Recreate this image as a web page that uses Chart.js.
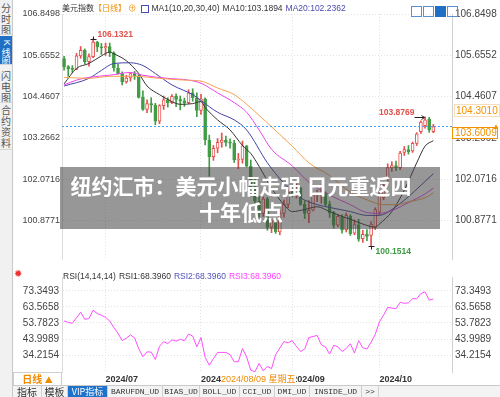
<!DOCTYPE html>
<html>
<head>
<meta charset="utf-8">
<script src="https://cdn.jsdelivr.net/npm/chart.js@4.4.1/dist/chart.umd.min.js"></script>
<style>
  body { margin: 0; background: #fff; }
  #box { position: relative; width: 500px; height: 397px; overflow: hidden;
         font-family: "Liberation Sans", Arial, "Noto Sans CJK SC", sans-serif; }
  canvas { position: absolute; left: 0; }
  #kline { top: 0; }
  #rsi { top: 268px; }
  .abs { position: absolute; white-space: nowrap; }
  #side { position: absolute; left: 0; top: 0; width: 12px; height: 397px; background: #f1f1f1;
          border-right: 1px solid #c9c9c9; }
  .tab { position: absolute; left: 0; width: 12px; font-size: 10px; line-height: 11px; color: #555;
         text-align: center; font-family: "Noto Sans CJK SC", sans-serif; border-bottom: 1px solid #d6d6d6;
         box-sizing: border-box; overflow: hidden; }
  .tab.on { background: #1f6fc5; color: #fff; }
  #head { left: 62px; top: 2px; font-size: 8.5px; line-height: 12px; color: #333; }
  #head span { margin-right: 3px; }
  #head .cjk { font-family: "Noto Sans CJK SC", sans-serif; font-size: 8px; margin-right: 0; }
  #rsihead { left: 63px; top: 271px; font-size: 8.5px; line-height: 11px; color: #333; }
  #rsihead span { margin-right: 3px; }
  #title { left: 60px; top: 167px; width: 380px; height: 62px; background: rgba(65, 65, 65, 0.55);
           color: #fff; font: bold 21px/26px "Noto Sans CJK SC", sans-serif; text-align: center;
           white-space: normal; padding-right: 18px; box-sizing: border-box; padding-top: 5px; }
  #tabs { left: 13px; top: 385px; height: 12px; width: 487px; background: #f3f3f3; border-top: 1px solid #c9c9c9; }
  #tabs div { position: absolute; top: 0; height: 12px; font: 8px/12px "Liberation Mono", monospace; color: #333;
              text-align: center; border-right: 1px solid #cfcfcf; overflow: hidden; }
  .icon { display: inline-block; width: 9px; height: 9px; border: 1px solid #5b8fd0; margin-left: 1px; vertical-align: middle; }
</style>
</head>
<body>
<div id="box">
  <canvas id="kline" width="500" height="268"></canvas>
  <canvas id="rsi" width="500" height="117"></canvas>

  <div id="side">
    <div class="tab" style="top:0;height:35px;padding-top:2px">分<br>时<br>图</div>
    <div class="tab on" style="top:36px;height:29px;padding-top:1px;font-size:9px;line-height:9.5px"><span style="display:inline-block;transform:rotate(90deg);font-family:'Liberation Sans'">K</span><br>线<br>图</div>
    <div class="tab" style="top:66px;height:37px;padding-top:4px">闪<br>电<br>图</div>
    <div class="tab" style="top:104px;height:46px;padding-top:0">合<br>约<br>资<br>料</div>
  </div>

  <div id="head" class="abs">
    <span class="cjk">美元指数</span><span class="cjk" style="color:#f08a00;margin-right:2px">【日线】</span><span style="color:#f08a00">⊕</span><span class="icon" style="width:6px;height:6px;margin-right:3px;border-color:#4a4ab0"></span><span>MA1(10,20,30,40)</span><span>MA10:103.1894</span><span style="color:#4a4ab0">MA20:102.2362</span>
  </div>
  <div class="abs" style="left:410px;top:2px">
    <span class="icon"></span><span class="icon"></span><span class="icon" style="background:#1f6fc5;border-color:#1f6fc5"></span><span class="icon"></span>
  </div>

  <div class="abs" style="left:454px;top:104px;font-size:10px;color:#f29100;border:1px solid #f6dcb8;padding:0 1px;line-height:11px">104.3010</div>
  <div class="abs" style="left:492px;top:122px;font-size:8px;color:#f29100">▲</div>

  <div id="title" class="abs">纽约汇市：美元小幅走强 日元重返四<br>十年低点</div>

  <div class="abs" style="left:14px;top:268px;font-size:10px;color:#e33">✹</div>
  <div id="rsihead" class="abs">
    <span>RSI(14,14,14)</span><span>RSI1:68.3960</span><span style="color:#5050b8">RSI2:68.3960</span><span style="color:#ff40ff">RSI3:68.3960</span>
  </div>

  <div class="abs" style="left:13px;top:372px;width:47px;height:12px;border:1px solid #cfcfcf;background:#fff;color:#f08a00;font:bold 10px/12px 'Noto Sans CJK SC',sans-serif;text-align:center">日线 <span style="font-size:8px">▲</span></div>
  <div class="abs" style="left:221px;top:373px;background:#fff;color:#f08a00;font:9px/11px 'Liberation Sans','Noto Sans CJK SC',sans-serif">2024/08/09 <span style="font-family:'Noto Sans CJK SC'">星期五</span></div>

  <div id="tabs" class="abs">
    <div style="left:0;width:28px;font-family:'Noto Sans CJK SC';font-size:10px">指标</div>
    <div style="left:29px;width:25px;font-family:'Noto Sans CJK SC';font-size:10px">模板</div>
    <div style="left:55px;width:39px;background:#1f72c9;color:#fff;font-family:'Noto Sans CJK SC';font-size:9px">VIP指标</div>
    <div style="left:95px;width:54px">BARUFDN_UD</div>
    <div style="left:150px;width:36px">BIAS_UD</div>
    <div style="left:187px;width:39px">BOLL_UD</div>
    <div style="left:227px;width:34px">CCI_UD</div>
    <div style="left:262px;width:34px">DMI_UD</div>
    <div style="left:297px;width:51px">INSIDE_UD</div>
    <div style="left:349px;width:16px">&gt;&gt;</div>
  </div>
</div>

<script>
// trading days, 2024
const dates = ['06/17','06/18','06/19','06/20','06/21','06/24','06/25','06/26','06/27','06/28',
  '07/01','07/02','07/03','07/04','07/05','07/08','07/09','07/10','07/11','07/12',
  '07/15','07/16','07/17','07/18','07/19','07/22','07/23','07/24','07/25','07/26',
  '07/29','07/30','07/31','08/01','08/02','08/05','08/06','08/07','08/08','08/09',
  '08/12','08/13','08/14','08/15','08/16','08/19','08/20','08/21','08/22','08/23',
  '08/26','08/27','08/28','08/29','08/30','09/02','09/03','09/04','09/05','09/06',
  '09/09','09/10','09/11','09/12','09/13','09/16','09/17','09/18','09/19','09/20',
  '09/23','09/24','09/25','09/26','09/27','09/30','10/01','10/02','10/03','10/04',
  '10/07','10/08','10/09','10/10','10/11','10/14','10/15','10/16','10/17','10/18'];
const year = '2024';

const opens = [105.56,105.33,105.26,105.25,105.64,105.80,105.47,105.62,106.04,105.90,
  105.87,105.91,105.73,105.29,105.12,104.89,105.00,105.13,105.06,104.44,
  104.09,104.26,104.22,103.75,104.20,104.37,104.29,104.47,104.38,104.34,
  104.29,104.57,104.43,104.06,104.40,103.21,102.73,102.97,103.14,103.21,
  103.14,103.12,102.63,102.65,103.04,102.45,101.86,101.44,101.09,101.51,
  100.68,100.86,100.55,101.09,101.35,101.70,101.64,101.83,101.35,101.09,
  101.18,101.63,101.66,101.68,101.35,101.11,100.75,100.98,100.62,101.00,
  100.52,100.76,100.36,100.48,100.45,100.69,101.12,101.54,102.10,102.40,
  102.47,102.41,102.85,102.93,102.89,103.11,103.45,103.62,103.81,103.45];
const highs = [105.63,105.36,105.36,105.71,105.91,105.84,105.70,106.1321,106.06,106.00,
  106.01,106.01,105.76,105.40,105.18,105.08,105.15,105.19,105.10,104.63,
  104.37,104.43,104.27,104.23,104.48,104.43,104.52,104.54,104.48,104.42,
  104.66,104.69,104.57,104.53,104.43,103.35,103.05,103.25,103.41,103.32,
  103.24,103.20,102.82,103.18,103.05,102.63,102.08,101.59,101.56,101.55,
  100.92,100.90,101.16,101.47,101.79,101.80,101.94,101.84,101.45,101.46,
  101.70,101.76,101.91,101.71,101.44,101.15,101.06,101.05,101.10,101.05,
  100.90,100.92,100.60,100.62,100.85,101.25,101.70,102.00,102.52,102.58,
  102.60,102.88,103.02,103.05,103.15,103.42,103.76,103.8769,103.86,103.66];
const lows = [105.23,105.05,105.16,105.24,105.57,105.41,105.34,105.59,105.76,105.68,
  105.65,105.62,105.20,105.11,104.80,104.85,104.91,104.96,104.42,104.06,
  104.00,104.01,103.65,103.68,104.09,104.16,104.26,104.17,104.08,104.18,
  104.26,104.33,103.88,103.95,103.07,102.16,102.62,102.84,103.00,103.03,
  102.97,102.56,102.38,102.54,102.43,101.80,101.30,100.92,101.00,100.60,
  100.53,100.51,100.47,100.98,101.25,101.57,101.53,101.32,100.94,100.82,
  101.16,101.43,101.38,101.29,100.97,100.66,100.70,100.52,100.55,100.45,
  100.47,100.28,100.25,100.30,100.1514,100.62,101.05,101.48,102.02,102.30,
  102.32,102.35,102.76,102.80,102.85,103.05,103.40,103.55,103.43,103.42];
const closes = [105.33,105.26,105.25,105.64,105.80,105.47,105.62,106.04,105.90,105.87,
  105.91,105.73,105.29,105.12,104.89,105.00,105.13,105.06,104.44,104.09,
  104.26,104.22,103.75,104.20,104.37,104.29,104.47,104.38,104.34,104.29,
  104.57,104.43,104.06,104.40,103.21,102.73,102.97,103.14,103.21,103.14,
  103.12,102.63,102.65,103.04,102.45,101.86,101.44,101.09,101.51,100.68,
  100.86,100.55,101.09,101.35,101.70,101.64,101.83,101.35,101.09,101.18,
  101.63,101.66,101.68,101.35,101.11,100.75,101.00,100.60,101.03,100.50,
  100.78,100.34,100.48,100.42,100.78,101.20,101.62,101.90,102.41,102.47,
  102.40,102.83,102.93,102.87,103.11,103.39,103.73,103.79,103.50,103.60];

// moving averages: [day index, value]
const ma10 = [[0,104.83],[3,105.28],[6,105.42],[9,105.64],[11,105.75],[12,105.70],[15,105.50],[18,105.13],
  [20,104.77],[23,104.52],[25,104.38],[28,104.24],[31,104.26],[33,104.32],[34,104.15],[37,103.79],
  [40,103.50],[43,103.05],[45,102.82],[47,102.45],[50,101.82],[53,101.34],[55,101.14],[58,101.20],
  [61,101.28],[64,101.14],[67,101.00],[69,100.92],[72,100.78],[75,100.69],[76,100.78],[79,101.14],
  [82,101.76],[85,102.55],[87,103.03],[89,103.1894]];
const ma20 = [[0,104.77],[6,104.99],[9,105.22],[12,105.42],[16,105.44],[19,105.36],[22,105.13],[26,104.80],
  [31,104.52],[33,104.35],[37,104.01],[41,103.79],[44,103.50],[49,102.55],[53,101.96],[57,101.54],
  [61,101.34],[64,101.26],[69,101.14],[73,101.03],[76,101.03],[79,101.20],[83,101.57],[86,101.90],[89,102.2362]];
const ma30 = [[0,104.80],[3,104.94],[6,105.02],[11,105.08],[16,105.16],[19,105.08],[25,104.99],[30,104.94],
  [33,104.85],[37,104.57],[41,104.29],[44,104.01],[47,103.50],[50,102.94],[55,102.46],[59,101.99],
  [64,101.62],[69,101.34],[73,101.11],[76,101.09],[79,101.17],[83,101.40],[87,101.65],[89,101.82]];
const ma40 = [[0,105.02],[6,104.99],[11,105.05],[17,105.05],[23,104.99],[29,104.94],[33,104.91],[37,104.71],
  [41,104.52],[44,104.24],[50,103.59],[55,103.03],[59,102.55],[64,102.18],[69,101.70],[73,101.48],
  [77,101.34],[80,101.34],[83,101.42],[87,101.54],[89,101.68]];

const rsi = [55.0,54.2,53.6,57.0,60.4,56.0,56.5,61.6,59.5,58.5,
  57.2,55.0,51.0,47.5,43.0,44.5,46.5,44.7,38.0,33.2,
  36.2,36.0,31.5,39.5,42.4,41.2,43.5,42.7,43.8,43.0,
  47.0,45.8,39.2,44.9,32.8,28.0,32.0,35.8,35.8,35.8,
  34.5,30.1,30.1,38.2,33.0,25.0,24.0,29.1,24.6,27.3,
  25.9,34.5,38.5,42.4,41.7,43.0,39.5,36.4,37.9,44.9,
  45.5,46.2,40.5,39.2,34.8,40.2,39.2,36.4,38.2,41.1,
  35.4,43.0,38.6,37.9,42.0,46.8,54.4,58.6,63.3,62.9,
  62.5,66.4,65.8,66.1,68.6,68.6,71.8,72.8,67.7,68.4];

const priceTicks = [106.8498, 105.6552, 104.4607, 103.2662, 102.0716, 100.8771];
const rsiTicks = [73.3493, 63.5658, 53.7823, 43.9989, 34.2154];
const lastPrice = 103.6009;

const upColor = '#e5514d';
const downColor = '#429d46';
const gridCol = '#e2e2e2';

Chart.defaults.font.family = '"Liberation Sans", Arial, sans-serif';
Chart.defaults.font.size = 10;

const labels = dates.concat(['', '', '', '']);
const isUp = closes.map((c, i) => c >= opens[i]);
const monthIdx = [];
dates.forEach((d, i) => {
  if (i > 0 && d.slice(0, 2) != dates[i - 1].slice(0, 2)) monthIdx.push(i);
});

let vGrid = c => monthIdx.includes(c.index) ? gridCol : 'rgba(0,0,0,0)';

let maLine = (pts, color) => ({
  type: 'line',
  data: pts.map(p => ({ x: dates[p[0]], y: p[1] })),
  borderColor: color,
  borderWidth: 1,
  pointRadius: 0,
  cubicInterpolationMode: 'monotone',
  order: 1
});

// marks: high / low labels, last price line and box
const marks = {
  id: 'marks',
  afterDatasetsDraw(chart) {
    const ctx = chart.ctx;
    const a = chart.chartArea;
    const x = chart.scales.x;
    const y = chart.scales.y;
    ctx.save();

    let yl = Math.round(y.getPixelForValue(lastPrice)) + 0.5;
    ctx.strokeStyle = '#45a0f2';
    ctx.lineWidth = 1;
    ctx.setLineDash([2, 2]);
    ctx.beginPath();
    ctx.moveTo(a.left, yl);
    ctx.lineTo(a.right, yl);
    ctx.stroke();
    ctx.setLineDash([]);

    let hi = highs.indexOf(Math.max(...highs));
    let lo = lows.indexOf(Math.min(...lows));
    let recent = highs.slice(lo);
    let hi2 = lo + recent.indexOf(Math.max(...recent));

    ctx.font = 'bold 8.5px "Liberation Sans", Arial';
    ctx.textBaseline = 'middle';
    ctx.strokeStyle = '#222';

    // highest
    let px = Math.round(x.getPixelForValue(hi)) + 0.5;
    let py = Math.round(y.getPixelForValue(highs[hi])) + 0.5;
    ctx.beginPath();
    ctx.moveTo(px - 3, py); ctx.lineTo(px + 3, py);
    ctx.moveTo(px, py - 3); ctx.lineTo(px, py);
    ctx.stroke();
    ctx.fillStyle = '#e2504a';
    ctx.textAlign = 'left';
    ctx.fillText(highs[hi].toFixed(4), px + 4, py - 5);

    // recent high with arrow
    px = Math.round(x.getPixelForValue(hi2)) + 0.5;
    py = Math.round(y.getPixelForValue(highs[hi2])) + 0.5;
    ctx.beginPath();
    ctx.moveTo(px - 11, py); ctx.lineTo(px - 1, py);
    ctx.moveTo(px - 4, py - 2); ctx.lineTo(px - 1, py); ctx.lineTo(px - 4, py + 2);
    ctx.stroke();
    ctx.textAlign = 'right';
    ctx.fillText(highs[hi2].toFixed(4), px - 11, py - 5);

    // lowest
    px = Math.round(x.getPixelForValue(lo)) + 0.5;
    py = Math.round(y.getPixelForValue(lows[lo])) + 0.5;
    ctx.beginPath();
    ctx.moveTo(px - 3, py); ctx.lineTo(px + 3, py);
    ctx.moveTo(px, py); ctx.lineTo(px, py + 3);
    ctx.stroke();
    ctx.fillStyle = '#3e9a44';
    ctx.textAlign = 'left';
    ctx.fillText(lows[lo].toFixed(4), px + 4, py + 5);

    // last price box on the right axis
    ctx.fillStyle = '#fff';
    ctx.fillRect(a.right, yl + 1, 46, 11);
    ctx.strokeStyle = '#f39200';
    ctx.strokeRect(a.right + 0.5, yl + 1, 45, 11);
    ctx.fillStyle = '#f29100';
    ctx.font = '10px "Liberation Sans", Arial';
    ctx.fillText(lastPrice.toFixed(4), a.right + 3, yl + 7);
    ctx.restore();
  }
};

let priceAxis = (pos, w) => ({
  position: pos,
  min: 99.77,
  max: 106.8498,
  afterBuildTicks: s => { s.ticks = priceTicks.map(v => ({ value: v })); },
  ticks: { callback: v => v.toFixed(4), color: '#444', padding: pos == 'left' ? 2 : 3, font: { size: pos == 'left' ? 9 : 10 } },
  grid: { display: pos == 'left', color: gridCol, drawTicks: false },
  border: pos == 'left' ? { color: '#dcdcdc', dash: [1, 2] } : { color: '#d0d0d0' },
  afterFit: s => { s.width = w; }
});

let klineChart = new Chart(document.getElementById('kline').getContext('2d'), {
  type: 'bar',
  data: {
    labels: labels,
    datasets: [
      {
        label: 'wick',
        data: lows.map((l, i) => [l, highs[i]]),
        backgroundColor: isUp.map(u => u ? upColor : downColor),
        barThickness: 1,
        grouped: false,
        order: 3
      },
      {
        label: 'body',
        data: opens.map((o, i) => [o, closes[i]]),
        backgroundColor: isUp.map(u => u ? '#ffffff' : downColor),
        borderColor: isUp.map(u => u ? upColor : downColor),
        borderWidth: 1,
        borderSkipped: false,
        barThickness: 3,
        minBarLength: 1,
        grouped: false,
        order: 2
      },
      maLine(ma40, '#f6a050'),
      maLine(ma30, '#ec45ec'),
      maLine(ma20, '#4343aa'),
      maLine(ma10, '#333333')
    ]
  },
  options: {
    responsive: false,
    animation: false,
    layout: { padding: { left: 13, right: 0, top: 14, bottom: 2 } },
    plugins: { legend: { display: false }, tooltip: { enabled: false } },
    scales: {
      x: {
        offset: true,
        ticks: { display: false, autoSkip: false },
        grid: { offset: false, drawTicks: false, color: vGrid },
        border: { display: false, dash: [1, 2] },
        afterFit: s => { s.height = 0; }
      },
      y: priceAxis('left', 49),
      y2: priceAxis('right', 48)
    }
  },
  plugins: [marks]
});

let rsiAxis = (pos, w) => ({
  position: pos,
  min: 23.85,
  max: 81.88,
  afterBuildTicks: s => { s.ticks = rsiTicks.map(v => ({ value: v })); },
  ticks: { callback: v => v.toFixed(4), color: '#444', padding: 3 },
  grid: { display: pos == 'left', color: gridCol, drawTicks: false },
  border: pos == 'left' ? { color: '#dcdcdc', dash: [1, 2] } : { color: '#d0d0d0' },
  afterFit: s => { s.width = w; }
});

let rsiChart = new Chart(document.getElementById('rsi').getContext('2d'), {
  type: 'line',
  data: {
    labels: labels,
    datasets: [{
      label: 'RSI3',
      data: rsi,
      borderColor: '#ff4dff',
      borderWidth: 1,
      pointRadius: 0,
      tension: 0
    }]
  },
  options: {
    responsive: false,
    animation: false,
    layout: { padding: { left: 13, right: 0, top: 2, bottom: 0 } },
    plugins: { legend: { display: false }, tooltip: { enabled: false } },
    scales: {
      x: {
        offset: true,
        ticks: {
          autoSkip: false, maxRotation: 0, align: 'start', padding: 2, color: '#333',
          font: { size: 9, weight: 'bold' },
          callback: (v, i) => monthIdx.includes(i) ? year + '/' + dates[i].slice(0, 2) : ''
        },
        grid: { offset: false, drawTicks: false, color: vGrid },
        border: { display: false, dash: [1, 2] },
        afterFit: s => { s.height = 13; }
      },
      y: rsiAxis('left', 49),
      y2: rsiAxis('right', 48)
    }
  }
});
</script>
</body>
</html>
